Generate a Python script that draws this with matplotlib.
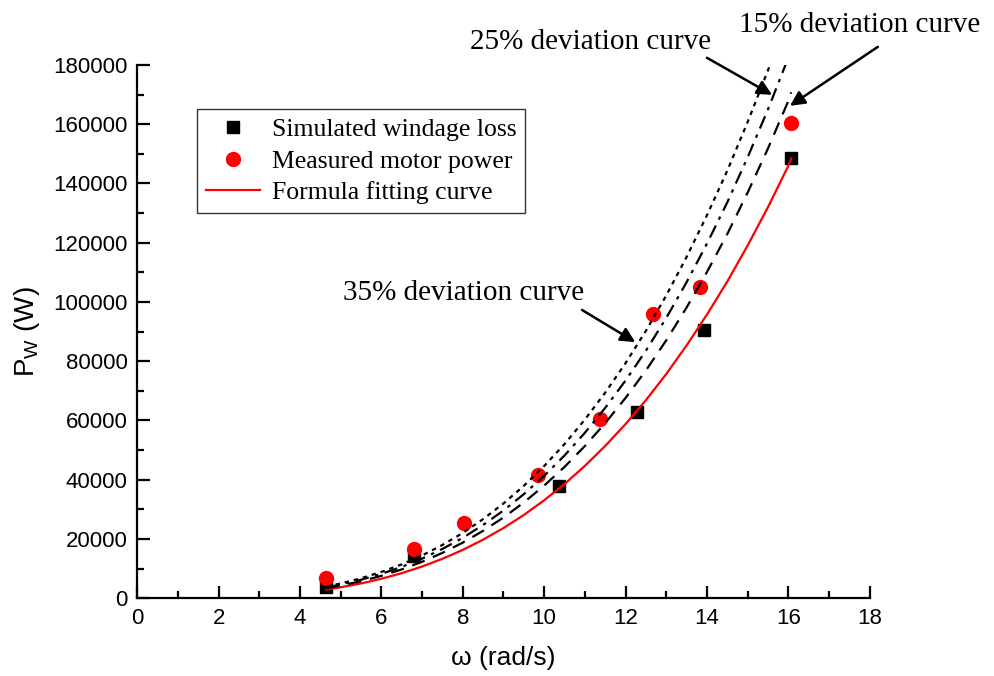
import numpy as np
import matplotlib
matplotlib.use('Agg')
import matplotlib.pyplot as plt
from matplotlib.ticker import MultipleLocator

# Simulated windage loss (black squares)
sim_w = [4.64, 6.80, 10.37, 12.27, 13.93, 16.07]
sim_p = [3800, 14200, 37800, 63000, 90700, 148500]

# Measured motor power (red circles)
meas_w = [4.64, 6.80, 8.04, 9.85, 11.38, 12.68, 13.82, 16.06]
meas_p = [7000, 16500, 25400, 41700, 60400, 95800, 105100, 160300]

# Formula fitting curve
fit_w = [4.65, 5.0, 5.5, 6.0, 6.5, 7.0, 7.5, 8.0, 8.5, 9.0, 9.5, 10.0, 10.5, 11.0,
         11.5, 12.0, 12.5, 13.0, 13.5, 14.0, 14.5, 15.0, 15.5, 16.0, 16.07]
fit_p = [2940, 3700, 5000, 6580, 8470, 10700, 13320, 16320, 19790, 23690, 28100, 33060,
         38540, 44670, 51400, 58790, 66850, 75690, 85330, 95740, 106900, 119060, 132000,
         145960, 148500]

# deviation curves: percent above the fitting curve
dev_pct = [15, 25, 35]
dev_styles = [(0, (6, 4)), (0, (6, 3, 1.5, 3)), (0, (2, 2.2))]

plt.rcParams['font.family'] = ['Liberation Sans', 'DejaVu Sans']

fig = plt.figure(figsize=(9.94, 6.76), dpi=100)
ax = fig.add_axes([0.138, 0.115, 0.737, 0.789])

# Markers
ax.plot(sim_w, sim_p, 's', color='black', markersize=8.5, label='Simulated windage loss', zorder=2)
ax.plot(meas_w, meas_p, 'o', color='red', markersize=10, label='Measured motor power', zorder=2)

# Fitting curve
ax.plot(fit_w, fit_p, '-', color='red', lw=1.6, label='Formula fitting curve', zorder=3)

# Deviation curves
fit_arr = np.array(fit_p, dtype=float)
for pct, ls in zip(dev_pct, dev_styles):
    ax.plot(fit_w, fit_arr * (1 + pct / 100.0), color='black', lw=1.6, linestyle=ls, zorder=3)

# Axes setup
ax.set_xlim(0, 18)
ax.set_ylim(0, 180000)
ax.xaxis.set_major_locator(MultipleLocator(2))
ax.xaxis.set_minor_locator(MultipleLocator(1))
ax.yaxis.set_major_locator(MultipleLocator(20000))
ax.yaxis.set_minor_locator(MultipleLocator(10000))
for s in ['top', 'right']:
    ax.spines[s].set_visible(False)
for s in ['left', 'bottom']:
    ax.spines[s].set_linewidth(1.6)
ax.tick_params(which='major', direction='in', length=9, width=1.6, labelsize=16, pad=7)
ax.tick_params(which='minor', direction='in', length=5, width=1.6)

ax.set_xlabel('ω (rad/s)', fontsize=19, labelpad=12)
ax.set_ylabel(r'P$_\mathregular{W}$ (W)', fontsize=20, labelpad=8)

# Legend
leg = ax.legend(loc='upper left', bbox_to_anchor=(0.082, 0.917), borderaxespad=0,
                frameon=True, fancybox=False, edgecolor='black',
                prop={'family': 'Liberation Serif', 'size': 18.5},
                handlelength=2.1, borderpad=0.35, labelspacing=0.33, handletextpad=0.45)
leg.get_frame().set_linewidth(1.0)

# Annotations
arrow = dict(arrowstyle='-|>', color='black', lw=1.8, mutation_scale=22, shrinkA=0, shrinkB=0)
tfont = dict(family='Liberation Serif', size=21, ha='center', va='center')
ax.annotate('', xy=(15.60, 169900), xytext=(14.00, 182400), arrowprops=arrow, annotation_clip=False)
ax.text(11.13, 187600, '25% deviation curve', clip_on=False, **tfont)
ax.annotate('', xy=(16.04, 166200), xytext=(18.20, 186100), arrowprops=arrow, annotation_clip=False)
ax.text(17.74, 193600, '15% deviation curve', clip_on=False, **tfont)
ax.annotate('', xy=(12.24, 86450), xytext=(10.93, 97300), arrowprops=arrow, annotation_clip=False)
ax.text(8.03, 103000, '35% deviation curve', clip_on=False, **tfont)

fig.savefig('out.png', dpi=100)
